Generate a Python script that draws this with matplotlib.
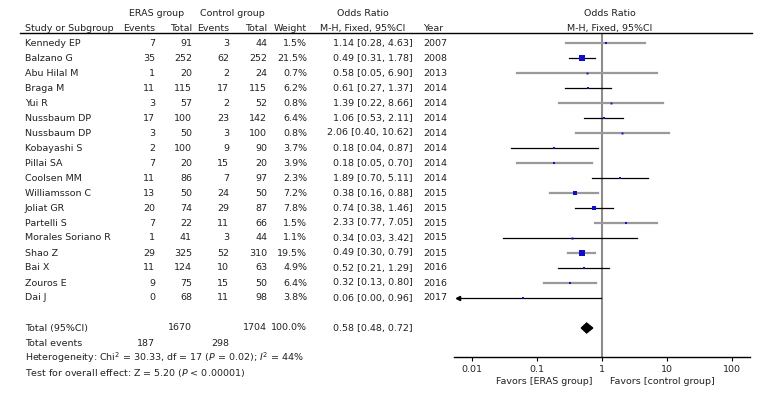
import numpy as np
import matplotlib
matplotlib.use("Agg")
import matplotlib.pyplot as plt
from matplotlib import transforms
from matplotlib.lines import Line2D

# study rows as printed in the table
studies = ["Kennedy EP", "Balzano G", "Abu Hilal M", "Braga M", "Yui R", "Nussbaum DP",
           "Nussbaum DP", "Kobayashi S", "Pillai SA", "Coolsen MM", "Williamsson C",
           "Joliat GR", "Partelli S", "Morales Soriano R", "Shao Z", "Bai X", "Zouros E", "Dai J"]
eras_events = [7, 35, 1, 11, 3, 17, 3, 2, 7, 11, 13, 20, 7, 1, 29, 11, 9, 0]
eras_total = [91, 252, 20, 115, 57, 100, 50, 100, 20, 86, 50, 74, 22, 41, 325, 124, 75, 68]
ctrl_events = [3, 62, 2, 17, 2, 23, 3, 9, 15, 7, 24, 29, 11, 3, 52, 10, 15, 11]
ctrl_total = [44, 252, 24, 115, 52, 142, 100, 90, 20, 97, 50, 87, 66, 44, 310, 63, 50, 98]
weight = [1.5, 21.5, 0.7, 6.2, 0.8, 6.4, 0.8, 3.7, 3.9, 2.3, 7.2, 7.8, 1.5, 1.1, 19.5, 4.9, 6.4, 3.8]
odds = [1.14, 0.49, 0.58, 0.61, 1.39, 1.06, 2.06, 0.18, 0.18, 1.89, 0.38, 0.74, 2.33, 0.34, 0.49, 0.52, 0.32, 0.06]
ci_lo = [0.28, 0.31, 0.05, 0.27, 0.22, 0.53, 0.40, 0.04, 0.05, 0.70, 0.16, 0.38, 0.77, 0.03, 0.30, 0.21, 0.13, 0.00]
ci_hi = [4.63, 1.78, 6.90, 1.37, 8.66, 2.11, 10.62, 0.87, 0.70, 5.11, 0.88, 1.46, 7.05, 3.42, 0.79, 1.29, 0.80, 0.96]
years = [2007, 2008, 2013, 2014, 2014, 2014, 2014, 2014, 2014, 2014, 2015, 2015, 2015, 2015, 2015, 2016, 2016, 2017]

total_eras, total_ctrl = 1670, 1704
events_eras, events_ctrl = 187, 298
pooled_or, pooled_lo, pooled_hi = 0.58, 0.48, 0.72
tick_vals = [0.01, 0.1, 1, 10, 100]
tick_labels = ["0.01", "0.1", "1", "10", "100"]

# the drawn line for Balzano stops at 0.78 in the figure (table says 1.78)
ci_hi_drawn = list(ci_hi)
ci_hi_drawn[1] = 0.78

W, H = 769, 398
fig = plt.figure(figsize=(W / 100, H / 100), dpi=100)
plt.rcParams["font.family"] = ["DejaVu Sans"]
FS = 6.8
TXT = "#222222"


def fx(px):
    return px / W


def fy(py):
    return 1 - py / H


# forest plot axes
row0, step = 43, 15
ax_left, ax_right, ax_top, ax_bot = 454, 750, 33, 357
ax = fig.add_axes([fx(ax_left), fy(ax_bot), fx(ax_right - ax_left), (ax_bot - ax_top) / H])
ax.set_xscale("log")
ax.set_xlim(10 ** -2.277, 10 ** 2.277)
ax.set_ylim((ax_bot - row0) / step, (ax_top - row0) / step)
for s in ["top", "right", "left"]:
    ax.spines[s].set_visible(False)
ax.spines["bottom"].set_linewidth(1.0)
ax.set_yticks([])
ax.set_xticks(tick_vals)
ax.set_xticklabels(tick_labels, fontsize=FS, color=TXT)
ax.xaxis.set_minor_locator(matplotlib.ticker.NullLocator())
ax.tick_params(axis="x", length=3, width=0.8, pad=3)
ax.axvline(1, color="#8c8c8c", lw=1.5, zorder=1)

gray, black = "#9a9a9a", "black"
for i in range(len(studies)):
    col = gray if i % 2 == 0 else black
    lw = 1.6 if i % 2 == 0 else 0.9
    lo = ci_lo[i]
    if lo <= 0:
        lo = ax.get_xlim()[0]
        ax.plot([lo * 1.15, ci_hi_drawn[i]], [i, i], color=col, lw=lw, zorder=2)
        ax.plot(lo * 1.15, i, marker="<", color=black, ms=3, zorder=3, clip_on=False)
    else:
        ax.plot([lo, ci_hi_drawn[i]], [i, i], color=col, lw=lw, zorder=2)
    side = 1.8 + 0.18 * weight[i]
    ax.plot(odds[i], i, marker="s", color="#1010cc", ms=side * 0.72, mew=0, zorder=4)

# pooled diamond
ytot = 19
ax.fill([pooled_lo, pooled_or, pooled_hi, pooled_or],
        [ytot, ytot - 0.33, ytot, ytot + 0.33], color="black", zorder=4)

# table text: x in figure px, y in row units
trans = transforms.blended_transform_factory(fig.transFigure, ax.transData)


def put(xpx, row, s, ha="left", **kw):
    fig.text(fx(xpx), row, s, transform=trans, ha=ha, va="center", fontsize=FS,
             color=TXT, **kw)


# header
put(157, -2, "ERAS group", ha="center")
put(232, -2, "Control group", ha="center")
put(363, -2, "Odds Ratio", ha="center")
put(610, -2, "Odds Ratio", ha="center")
put(25, -1, "Study or Subgroup")
put(155, -1, "Events", ha="right")
put(192, -1, "Total", ha="right")
put(229, -1, "Events", ha="right")
put(267, -1, "Total", ha="right")
put(307, -1, "Weight", ha="right")
put(363, -1, "M-H, Fixed, 95%CI", ha="center")
put(423, -1, "Year")
put(610, -1, "M-H, Fixed, 95%CI", ha="center")
fig.add_artist(Line2D([fx(20), fx(752)], [fy(ax_top), fy(ax_top)], color="black", lw=1.0))

for i in range(len(studies)):
    put(25, i, studies[i])
    put(155, i, str(eras_events[i]), ha="right")
    put(192, i, str(eras_total[i]), ha="right")
    put(229, i, str(ctrl_events[i]), ha="right")
    put(267, i, str(ctrl_total[i]), ha="right")
    put(307, i, f"{weight[i]:.1f}%", ha="right")
    put(413, i, f"{odds[i]:.2f} [{ci_lo[i]:.2f}, {ci_hi[i]:.2f}]", ha="right")
    put(423, i, str(years[i]))

put(25, ytot, "Total (95%CI)")
put(192, ytot, str(total_eras), ha="right")
put(267, ytot, str(total_ctrl), ha="right")
put(307, ytot, "100.0%", ha="right")
put(413, ytot, f"{pooled_or:.2f} [{pooled_lo:.2f}, {pooled_hi:.2f}]", ha="right")
put(25, 20, "Total events")
put(155, 20, str(events_eras), ha="right")
put(229, 20, str(events_ctrl), ha="right")
put(25, 21, r"Heterogeneity: Chi$^2$ = 30.33, df = 17 ($P$ = 0.02); $I^2$ = 44%")
put(25, 22, r"Test for overall effect: Z = 5.20 ($P$ < 0.00001)")

fig.text(fx(593), fy(382), "Favors [ERAS group]", ha="right", va="center", fontsize=FS, color=TXT)
fig.text(fx(610), fy(382), "Favors [control group]", ha="left", va="center", fontsize=FS, color=TXT)

fig.savefig("out.png", dpi=100)
